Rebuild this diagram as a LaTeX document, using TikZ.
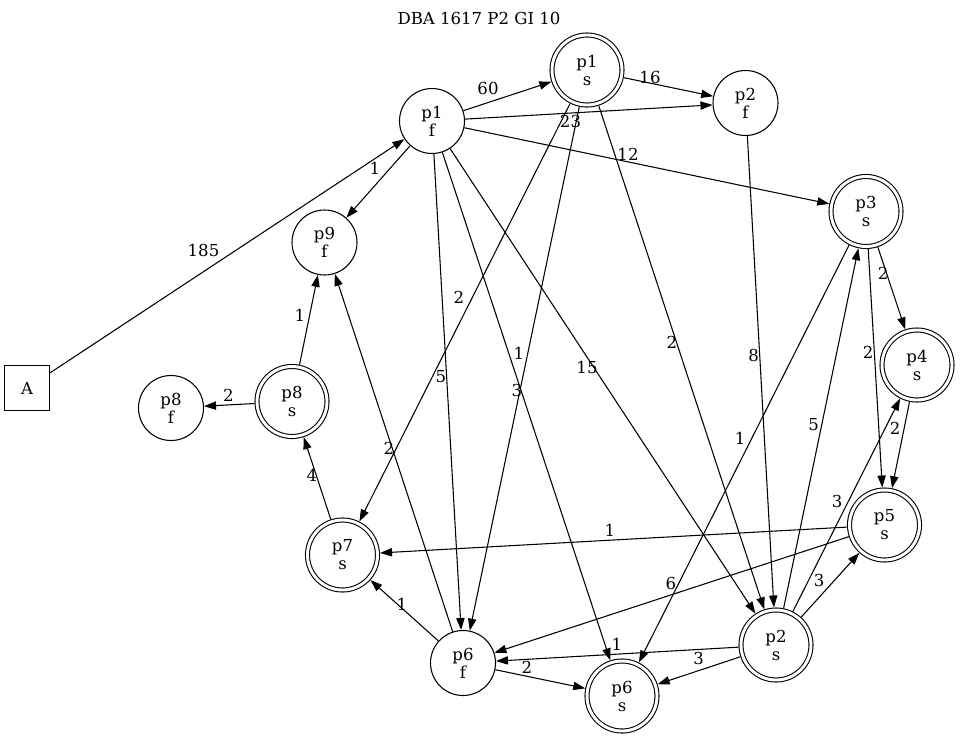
\documentclass[tikz,border=0pt]{standalone}
\usepackage{fontspec}
\setmainfont{DejaVu Serif}
\usetikzlibrary{arrows.meta}
\begin{document}
\begin{tikzpicture}[x=0.75pt,y=-0.75pt,
  every node/.style={font=\fontsize{12.4}{13.5}\selectfont},
  fstate/.style={circle,draw,line width=0.8pt,minimum size=48.75pt,inner sep=0pt,align=center},
  sstate/.style={circle,draw,line width=0.8pt,double,double distance=2.2pt,
                 minimum size=52.5pt,inner sep=0pt,outer sep=1.9pt,align=center},
  initbox/.style={rectangle,draw,line width=0.8pt,minimum size=33.5pt,inner sep=0pt},
  conn/.style={-{Triangle[length=9pt,width=6.2pt]},line width=0.8pt},
  lbl/.style={inner sep=0pt}]
\useasboundingbox (0,0) rectangle (960,739);

% title
\node (title) at (479,18) {DBA 1617 P2 GI 10};

% states
\node[initbox] (A)   at (27,388)    {A};
\node[fstate]  (p1f) at (432,121)   {p1\\f};
\node[sstate]  (p1s) at (587,70)    {p1\\s};
\node[fstate]  (p2f) at (745.5,103) {p2\\f};
\node[sstate]  (p3s) at (866,211.5) {p3\\s};
\node[sstate]  (p4s) at (917,365)   {p4\\s};
\node[sstate]  (p5s) at (884.5,525) {p5\\s};
\node[sstate]  (p2s) at (776,645)   {p2\\s};
\node[sstate]  (p6s) at (622,696)   {p6\\s};
\node[fstate]  (p6f) at (463,663)   {p6\\f};
\node[sstate]  (p7s) at (342.5,555) {p7\\s};
\node[sstate]  (p8s) at (292,401.5) {p8\\s};
\node[fstate]  (p8f) at (171,408)   {p8\\f};
\node[fstate]  (p9f) at (324.5,242.5) {p9\\f};

% transitions
\draw[conn] (A)   -- (p1f);
\draw[conn] (p1f) -- (p9f);
\draw[conn] (p1f) -- (p1s);
\draw[conn] (p1f) -- (p2f);
\draw[conn] (p1s) -- (p2f);
\draw[conn] (p1f) -- (p3s);
\draw[conn] (p1f) -- (p6f);
\draw[conn] (p1f) -- (p6s);
\draw[conn] (p1f) -- (p2s);
\draw[conn] (p1s) -- (p7s);
\draw[conn] (p1s) -- (p6f);
\draw[conn] (p1s) -- (p2s);
\draw[conn] (p2f) -- (p2s);
\draw[conn] (p3s) -- (p4s);
\draw[conn] (p3s) -- (p5s);
\draw[conn] (p3s) -- (p6s);
\draw[conn] (p2s) -- (p3s);
\draw[conn] (p2s) -- (p4s);
\draw[conn] (p4s) -- (p5s);
\draw[conn] (p2s) -- (p5s);
\draw[conn] (p5s) -- (p7s);
\draw[conn] (p5s) -- (p6f);
\draw[conn] (p2s) -- (p6f);
\draw[conn] (p2s) -- (p6s);
\draw[conn] (p6f) -- (p6s);
\draw[conn] (p6f) -- (p7s);
\draw[conn] (p6f) -- (p9f);
\draw[conn] (p7s) -- (p8s);
\draw[conn] (p8s) -- (p9f);
\draw[conn] (p8s) -- (p8f);

% transition labels
\node[lbl] (lA1)   at (203.5,250) {185};
\node[lbl] (l19)   at (375,168)   {1};
\node[lbl] (l11s)  at (488,88)    {60};
\node[lbl] (l12f)  at (570.5,121.5) {23};
\node[lbl] (ls2f)  at (650,77)    {16};
\node[lbl] (l13)   at (628,154)   {12};
\node[lbl] (l16f)  at (441,377)   {5};
\node[lbl] (l16s)  at (519,353)   {1};
\node[lbl] (l12s)  at (587,367)   {15};
\node[lbl] (ls7)   at (459,297)   {2};
\node[lbl] (ls6f)  at (517,390)   {3};
\node[lbl] (ls2s)  at (672,342)   {2};
\node[lbl] (lf2s)  at (753.5,355) {8};
\node[lbl] (l34)   at (883,273)   {2};
\node[lbl] (l35)   at (868,352)   {2};
\node[lbl] (l36)   at (740,438)   {1};
\node[lbl] (l23)   at (813.5,425) {5};
\node[lbl] (l24)   at (837,501)   {3};
\node[lbl] (l45)   at (895,428)   {2};
\node[lbl] (l25)   at (819,580)   {3};
\node[lbl] (l57)   at (610,530)   {1};
\node[lbl] (l56f)  at (671,583)   {6};
\node[lbl] (l26f)  at (617,644)   {1};
\node[lbl] (l26s)  at (698.5,658.5) {3};
\node[lbl] (lff)   at (527,667)   {2};
\node[lbl] (l6f7)  at (402,604)   {1};
\node[lbl] (l6f9)  at (389,448)   {2};
\node[lbl] (l78)   at (312,475)   {4};
\node[lbl] (l89)   at (300,315)   {1};
\node[lbl] (l88)   at (228.5,395) {2};
\end{tikzpicture}
\end{document}
